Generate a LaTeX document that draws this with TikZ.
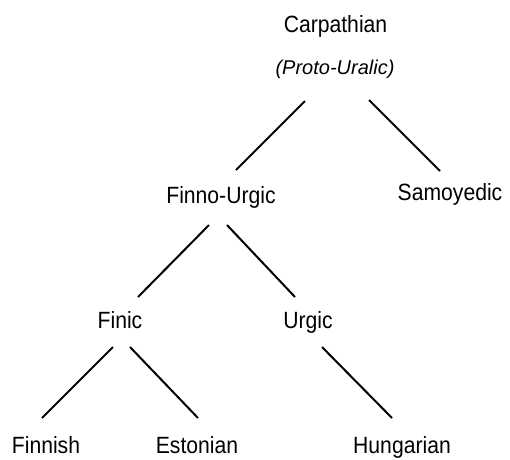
\documentclass[tikz,border=0pt]{standalone}
\usepackage{fontspec}
\setmainfont{Liberation Sans}
\newfontfamily\narrowfont[FakeStretch=0.9]{Liberation Sans}
\usetikzlibrary{calc}
\begin{document}
\begin{tikzpicture}[x=1pt,y=-1pt,
  lang/.style={anchor=base,inner sep=0pt,font=\narrowfont\fontsize{23.5}{26}\selectfont},
  proto/.style={anchor=base,inner sep=0pt,font=\fontsize{20}{23}\selectfont\itshape},
  branch/.style={line width=2pt}]
\useasboundingbox (0,0) rectangle (510,459);
\node[lang] (carp) at (335.5,32) {Carpathian};
\node[proto] (pu) at (335,74) {(Proto-Uralic)};
\node[lang] (fu) at (221,203) {Finno-Urgic};
\node[lang] (sam) at (450,200) {Samoyedic};
\node[lang] (finic) at (120,328) {Finic};
\node[lang] (urgic) at (308,328) {Urgic};
\node[lang] (finnish) at (46,453) {Finnish};
\node[lang] (est) at (197,453) {Estonian};
\node[lang] (hun) at (402,453) {Hungarian};
\draw[branch] ($(pu.base)+(-30,27)$) -- ($(fu.base)+(15,-33)$);
\draw[branch] ($(pu.base)+(34,26)$) -- ($(sam.base)+(-10,-29)$);
\draw[branch] ($(fu.base)+(-12,22)$) -- ($(finic.base)+(18,-31)$);
\draw[branch] ($(fu.base)+(6,22)$) -- ($(urgic.base)+(-13,-31)$);
\draw[branch] ($(finic.base)+(-7,19)$) -- ($(finnish.base)+(-4,-35)$);
\draw[branch] ($(finic.base)+(10,19)$) -- ($(est.base)+(1,-35)$);
\draw[branch] ($(urgic.base)+(14,19)$) -- ($(hun.base)+(-10,-35)$);
\end{tikzpicture}
\end{document}
